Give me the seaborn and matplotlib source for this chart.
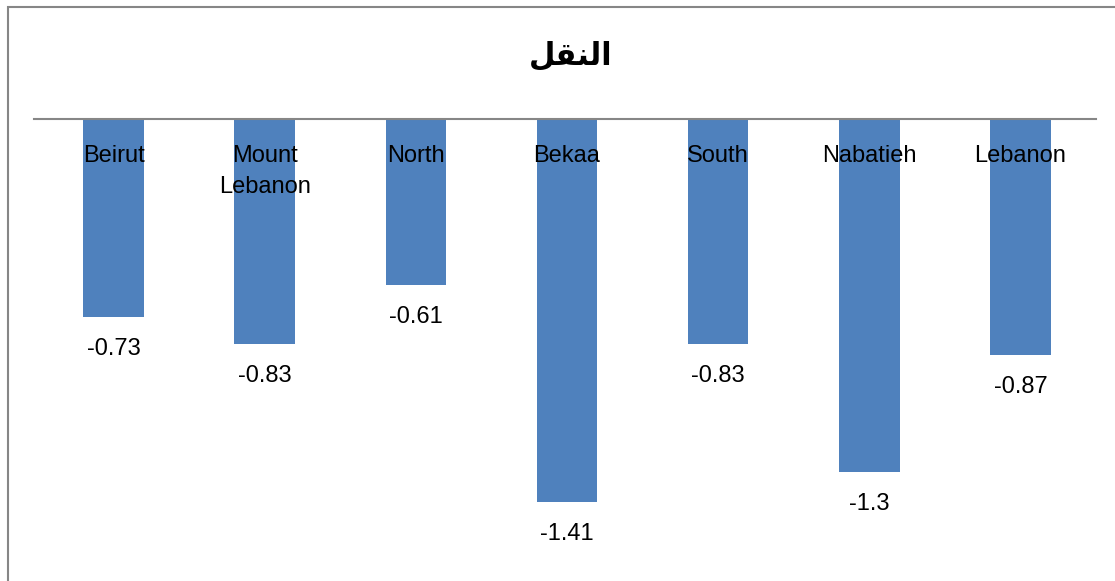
import matplotlib
matplotlib.use("Agg")
import matplotlib.pyplot as plt
import matplotlib.patches as patches
import seaborn as sns
import pandas as pd

# data
regions = ["Beirut", "Mount\nLebanon", "North", "Bekaa", "South", "Nabatieh", "Lebanon"]
values = [-0.73, -0.83, -0.61, -1.41, -0.83, -1.3, -0.87]
# "النقل" written in Arabic presentation forms, visual order, since matplotlib does no shaping
title = "\uFEDE\uFED8\uFEE8\uFEDF\uFE8D"

bar_color = "#4F81BD"
line_color = "#868686"

sns.set_style("white")
plt.rcParams["font.family"] = ["Liberation Sans", "DejaVu Sans"]
plt.rcParams["text.color"] = "black"

df = pd.DataFrame({"region": regions, "value": values})

fig = plt.figure(figsize=(11.15, 5.81), dpi=100)
ax = fig.add_axes([38 / 1115, 1 - 553.6 / 581, (1096 - 38) / 1115, (553.6 - 119) / 581])

sns.barplot(data=df, x="region", y="value", color=bar_color, saturation=1,
            width=0.4, linewidth=0, ax=ax)
ax.set_ylim(-1.6, 0)
ax.set_xlim(-0.5, 6.5)

for s in ["left", "right", "bottom"]:
    ax.spines[s].set_visible(False)
ax.spines["top"].set_color(line_color)
ax.spines["top"].set_linewidth(1.5)
ax.spines["top"].set_bounds(-0.527, 6.5)
ax.set_xticks([])
ax.set_yticks([])
ax.set_xlabel("")
ax.set_ylabel("")

# category names just under the zero line
for i, r in enumerate(regions):
    ax.annotate(r, xy=(i, 0), xytext=(0, -19), textcoords="offset points",
                ha="center", va="top", fontsize=17, linespacing=1.5, color="black")

ax.bar_label(ax.containers[0], labels=[str(v) for v in values], padding=15,
             fontsize=17, color="black")

fig.text(571 / 1115, 1 - 55 / 581, title, ha="center", va="center", color="black",
         fontsize=22, fontweight="bold", family=["DejaVu Sans"])

# chart border (right and bottom edges fall outside the picture)
border = patches.Rectangle((8 / 1115, -0.1), 1.2, 1.1 - 7 / 581, transform=fig.transFigure,
                           fill=False, edgecolor=line_color, linewidth=1.5, clip_on=False)
fig.patches.append(border)

fig.savefig("out.png", dpi=100)
